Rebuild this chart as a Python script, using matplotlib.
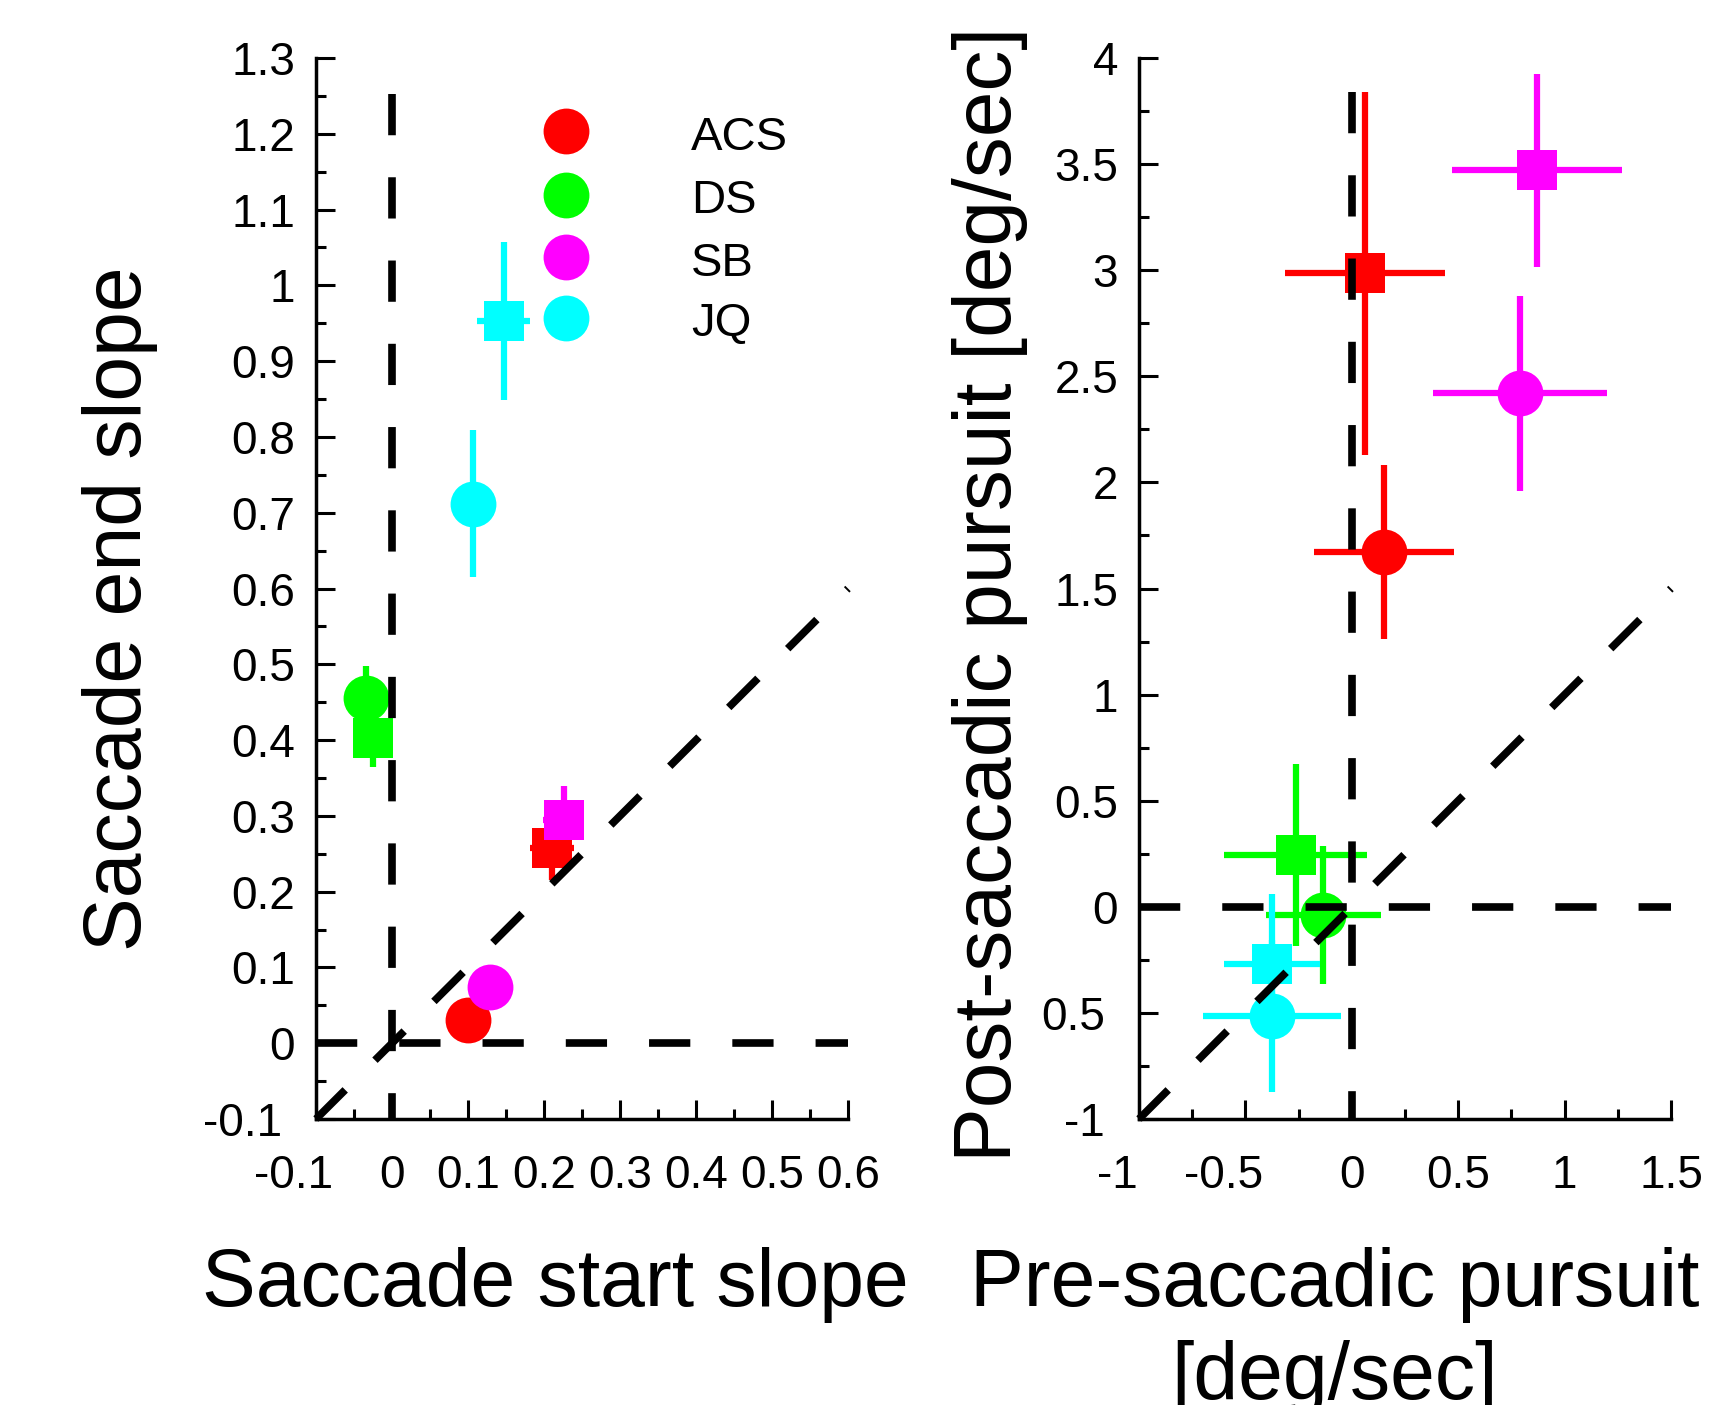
import matplotlib.pyplot as plt
import matplotlib.transforms as mtransforms
from matplotlib.ticker import MultipleLocator, FixedLocator

plt.rcParams['font.family'] = ['Liberation Sans', 'DejaVu Sans']

# subjects and colours
subjects = ['ACS', 'DS', 'SB', 'JQ']
colors = ['#ff0000', '#00ff00', '#ff00ff', '#00ffff']

# left panel: saccade start slope (x) vs saccade end slope (y)
slope_circ_x = [0.100, -0.034, 0.129, 0.107]
slope_circ_xerr = [0.010, 0.010, 0.010, 0.015]
slope_circ_y = [0.030, 0.455, 0.074, 0.712]
slope_circ_yerr = [0.010, 0.043, 0.010, 0.097]
slope_sq_x = [0.211, -0.025, 0.226, 0.147]
slope_sq_xerr = [0.029, 0.010, 0.027, 0.035]
slope_sq_y = [0.257, 0.403, 0.294, 0.953]
slope_sq_yerr = [0.042, 0.039, 0.045, 0.104]

# right panel: pre-saccadic (x) vs post-saccadic (y) pursuit
purs_circ_x = [0.151, -0.134, 0.790, -0.375]
purs_circ_xerr = [0.330, 0.270, 0.410, 0.326]
purs_circ_y = [1.673, -0.039, 2.420, -0.515]
purs_circ_yerr = [0.410, 0.326, 0.460, 0.360]
purs_sq_x = [0.062, -0.264, 0.870, -0.375]
purs_sq_xerr = [0.378, 0.337, 0.400, 0.225]
purs_sq_y = [2.985, 0.245, 3.470, -0.270]
purs_sq_yerr = [0.855, 0.430, 0.455, 0.330]

# tick labels
slope_ticks = [-0.1, 0, 0.1, 0.2, 0.3, 0.4, 0.5, 0.6, 0.7, 0.8, 0.9, 1.0, 1.1, 1.2, 1.3]
slope_labels = ['-0.1', '0', '0.1', '0.2', '0.3', '0.4', '0.5', '0.6', '0.7', '0.8',
                '0.9', '1', '1.1', '1.2', '1.3']
purs_xticks = [-1, -0.5, 0, 0.5, 1, 1.5]
purs_xlabels = ['-1', '-0.5', '0', '0.5', '1', '1.5']
purs_yticks = [-1, -0.5, 0, 0.5, 1, 1.5, 2, 2.5, 3, 3.5, 4]
purs_ylabels = ['-1', '0.5', '0', '0.5', '1', '1.5', '2', '2.5', '3', '3.5', '4']

W, H = 1709, 1405
fig = plt.figure(figsize=(W / 100, H / 100), dpi=100)
ax1 = fig.add_axes([316 / W, 1 - 1119 / H, 532 / W, 1061 / H])
ax2 = fig.add_axes([1139 / W, 1 - 1119 / H, 532 / W, 1061 / H])

circ_ms, sq_ms, elw = 33, 29, 4.5
dash_kw = dict(color='black', lw=5.5, dashes=(5.4, 5.5), zorder=5, clip_on=False)


def draw_panel(ax, cx, cxe, cy, cye, sx, sxe, sy, sye):
    for i in range(len(subjects)):
        c = colors[i]
        ax.errorbar(cx[i], cy[i], xerr=cxe[i], yerr=cye[i], fmt='o', color=c,
                    ms=circ_ms, mew=0, elinewidth=elw, capsize=0, zorder=3)
        ax.errorbar(sx[i], sy[i], xerr=sxe[i], yerr=sye[i], fmt='s', color=c,
                    ms=sq_ms, mew=0, elinewidth=elw, capsize=0, zorder=3)


draw_panel(ax1, slope_circ_x, slope_circ_xerr, slope_circ_y, slope_circ_yerr,
           slope_sq_x, slope_sq_xerr, slope_sq_y, slope_sq_yerr)
draw_panel(ax2, purs_circ_x, purs_circ_xerr, purs_circ_y, purs_circ_yerr,
           purs_sq_x, purs_sq_xerr, purs_sq_y, purs_sq_yerr)

# reference lines
ax1.plot([0, 0], [1.252, -0.1], **dash_kw)
ax1.plot([-0.1, 0.6], [0, 0], **dash_kw)
ax1.plot([-0.1, 0.6], [-0.1, 0.6], **dash_kw)
ax2.plot([0, 0], [3.84, -1], **dash_kw)
ax2.plot([-1, 1.5], [0, 0], **dash_kw)
ax2.plot([-1, 1.5], [-1, 1.5], **dash_kw)

# legend drawn by hand
leg_y = [0.931, 0.871, 0.812, 0.755]
for i, name in enumerate(subjects):
    ax1.plot(0.47, leg_y[i], 'o', color=colors[i], ms=circ_ms, mew=0,
             transform=ax1.transAxes, clip_on=False)
    ax1.text(0.705, leg_y[i] - 0.006, name, fontsize=34, va='center', ha='left',
             transform=ax1.transAxes)

ax1.set_xlim(-0.1, 0.6)
ax1.set_ylim(-0.1, 1.3)
ax1.xaxis.set_major_locator(FixedLocator(slope_ticks[:8]))
ax1.set_xticklabels(slope_labels[:8])
ax1.yaxis.set_major_locator(FixedLocator(slope_ticks))
ax1.set_yticklabels(slope_labels)
ax1.xaxis.set_minor_locator(MultipleLocator(0.05))
ax1.yaxis.set_minor_locator(MultipleLocator(0.05))

ax2.set_xlim(-1, 1.5)
ax2.set_ylim(-1, 4)
ax2.xaxis.set_major_locator(FixedLocator(purs_xticks))
ax2.set_xticklabels(purs_xlabels)
ax2.yaxis.set_major_locator(FixedLocator(purs_yticks))
ax2.set_yticklabels(purs_ylabels)
ax2.xaxis.set_minor_locator(MultipleLocator(0.25))
ax2.yaxis.set_minor_locator(MultipleLocator(0.25))

for ax in (ax1, ax2):
    for s in ('top', 'right'):
        ax.spines[s].set_visible(False)
    for s in ('left', 'bottom'):
        ax.spines[s].set_linewidth(2.5)
    ax.tick_params(which='major', direction='in', length=13.5, width=2.2, labelsize=33)
    ax.tick_params(which='minor', direction='in', length=7, width=2.2)
    ax.tick_params(axis='x', which='major', pad=25)
    ax.tick_params(axis='y', which='major', pad=15)
    # negative labels sit a little to the left in the original
    for t in ax.xaxis.get_major_ticks():
        if t.get_loc() < 0:
            t.label1.set_transform(t.label1.get_transform() +
                                   mtransforms.ScaledTranslation(-0.22, 0, fig.dpi_scale_trans))
    for t in ax.yaxis.get_major_ticks():
        if t.get_loc() < 0:
            t.label1.set_transform(t.label1.get_transform() +
                                   mtransforms.ScaledTranslation(-0.13, 0, fig.dpi_scale_trans))

# axis titles
fig.text(0.070, 0.567, 'Saccade end slope', rotation=90, fontsize=58,
         ha='center', va='center')
fig.text(0.579, 0.577, 'Post-saccadic pursuit [deg/sec]', rotation=90, fontsize=59,
         ha='center', va='center')
fig.text(0.325, 0.0705, 'Saccade start slope', fontsize=58, ha='center', va='baseline')
fig.text(0.781, 0.0705, 'Pre-saccadic pursuit', fontsize=58, ha='center', va='baseline')
fig.text(0.781, 0.004, '[deg/sec]', fontsize=58, ha='center', va='baseline')

fig.savefig('out.png', dpi=100)
